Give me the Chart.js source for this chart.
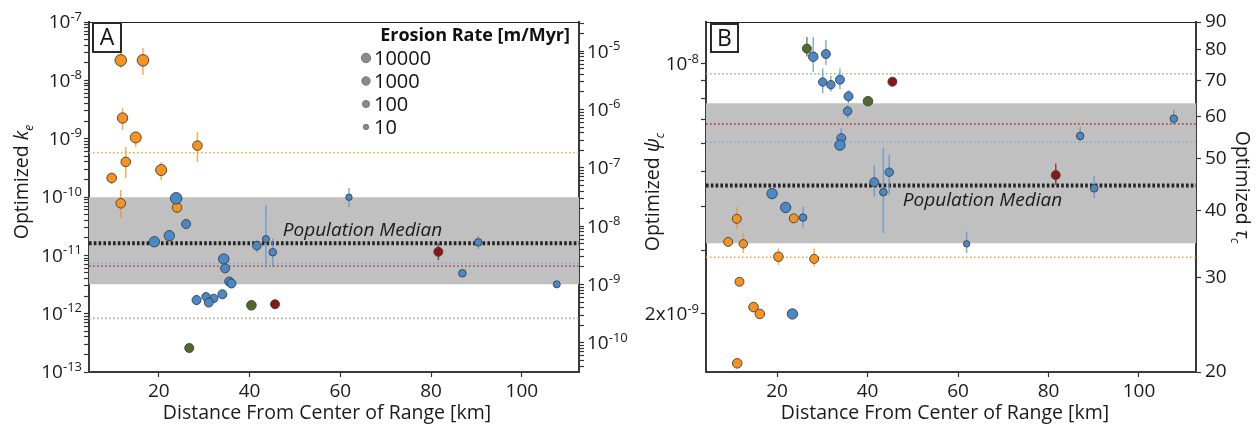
<!DOCTYPE html>
<html lang="en">
<head>
<meta charset="UTF-8">
<title>Optimized k_e and psi_c versus distance from range center</title>
<style>
  body { margin: 0; background: #fff; }
  #wrap { position: relative; width: 1260px; height: 426px; }
  canvas { position: absolute; top: 0; }
  #chartA { left: 0; }
  #chartB { left: 630px; }
</style>
<script src="https://cdn.jsdelivr.net/npm/chart.js"></script>
</head>
<body>
<div id="wrap">
  <canvas id="chartA" width="630" height="426"></canvas>
  <canvas id="chartB" width="630" height="426"></canvas>
</div>
<script>
// ---- data ----
const groupNames = ['orange', 'blue', 'green', 'red'];
const distTicks = [20, 40, 60, 80, 100];

// panel A : optimized k_e
const aGroup = 'OOOOOOOOOOBBBBBBBBBBBBBBBBBBBBGGRR'.split('');
const aDist = [11.6, 16.5, 12.0, 14.9, 12.7, 9.6, 20.5, 28.5, 11.6, 24.0,
  23.8, 26.0, 22.3, 19.0, 41.6, 43.6, 45.1, 34.3, 34.6, 35.5, 36.0, 34.0, 32.1, 30.4, 31.0, 28.3, 61.9, 90.4, 86.9, 107.7,
  40.4, 26.7,
  45.6, 81.6];
const aKe = [2.2e-8, 2.2e-8, 2.26e-9, 1.05e-9, 4.0e-10, 2.12e-10, 2.9e-10, 7.6e-10, 7.8e-11, 6.6e-11,
  9.5e-11, 3.44e-11, 2.17e-11, 1.71e-11, 1.46e-11, 1.9e-11, 1.13e-11, 8.65e-12, 5.98e-12, 3.56e-12, 3.29e-12, 2.15e-12, 1.83e-12, 1.95e-12, 1.55e-12, 1.71e-12, 9.9e-11, 1.67e-11, 4.92e-12, 3.18e-12,
  1.39e-12, 2.58e-13,
  1.45e-12, 1.15e-11];
const aKeLow = [1.63e-8, 1.23e-8, 1.41e-9, 7.2e-10, 2.12e-10, 1.67e-10, 1.95e-10, 3.98e-10, 4.37e-11, null,
  null, 2.9e-11, null, null, 1.13e-11, 6.1e-12, 6.3e-12, null, null, null, null, null, null, null, null, 1.4e-12, 6.7e-11, 1.29e-11, null, null,
  null, null,
  null, 8.3e-12];
const aKeHigh = [2.94e-8, 3.58e-8, 3.36e-9, 1.3e-9, 7.2e-10, 2.58e-10, 3.98e-10, 1.3e-9, 1.32e-10, null,
  null, 4.1e-11, null, null, 1.83e-11, 7.3e-11, 1.95e-11, null, null, null, null, null, null, null, null, 2.1e-12, 1.43e-10, 2.14e-11, null, null,
  null, null,
  null, 1.61e-11];
const aRate = [16000, 16000, 1000, 4000, 220, 220, 4000, 220, 220, 220,
  16000, 80, 1000, 1000, 35, 7, 12, 1000, 80, 80, 80, 80, 35, 35, 80, 80, 4, 12, 12, 7,
  220, 80,
  80, 80];
const aGroupMedian = [5.74e-10, 7.3e-12, 8.3e-13, 6.56e-12];   // orange, blue, green, red
const aPopMedian = 1.61e-11;
const aPopRange = [3.18e-12, 9.9e-11];
const keDecades = [1e-7, 1e-8, 1e-9, 1e-10, 1e-11, 1e-12, 1e-13];
const keLabels = ['10^-7', '10^-8', '10^-9', '10^-10', '10^-11', '10^-12', '10^-13'];
const keRightDecades = [1e-5, 1e-6, 1e-7, 1e-8, 1e-9, 1e-10];
const keRightLabels = ['10^-5', '10^-6', '10^-7', '10^-8', '10^-9', '10^-10'];

// panel B : optimized psi_c
const bGroup = 'OOOOOOOOOOBBBBBBBBBBBBBBBBBBBBGGRR'.split('');
const bDist = [11.1, 23.7, 9.2, 12.55, 20.3, 28.2, 11.7, 14.8, 16.2, 11.2,
  28.0, 30.8, 30.1, 31.9, 33.9, 35.8, 35.6, 34.2, 33.9, 41.5, 43.5, 44.8, 18.9, 21.9, 25.75, 23.4, 87.0, 107.7, 90.1, 61.9,
  26.6, 40.1,
  45.5, 81.6];
const bPsi = [3.69e-9, 3.7e-9, 3.18e-9, 3.14e-9, 2.89e-9, 2.85e-9, 2.46e-9, 2.09e-9, 2.0e-9, 1.455e-9,
  1.048e-8, 1.066e-8, 8.9e-9, 8.75e-9, 9.04e-9, 8.12e-9, 7.38e-9, 6.2e-9, 5.93e-9, 4.67e-9, 4.38e-9, 4.98e-9, 4.34e-9, 3.97e-9, 3.72e-9, 2.0e-9, 6.29e-9, 7.03e-9, 4.49e-9, 3.14e-9,
  1.104e-8, 7.87e-9,
  8.92e-9, 4.89e-9];
const bPsiLow = [3.45e-9, null, null, 2.96e-9, 2.74e-9, 2.71e-9, null, null, null, null,
  9.5e-9, 9.94e-9, 8.28e-9, 8.38e-9, 8.5e-9, 7.76e-9, 7.05e-9, 5.87e-9, null, 4.25e-9, 3.37e-9, 4.31e-9, null, null, 3.49e-9, null, 6.07e-9, 6.75e-9, 4.21e-9, 2.96e-9,
  1.05e-8, null,
  null, 4.59e-9];
const bPsiHigh = [3.99e-9, null, null, 3.36e-9, 3.05e-9, 3.05e-9, null, null, null, null,
  1.19e-8, 1.167e-8, 9.72e-9, 9.25e-9, 9.72e-9, 8.46e-9, 7.68e-9, 6.61e-9, null, 5.22e-9, 5.82e-9, 5.57e-9, null, null, 3.99e-9, null, 6.68e-9, 7.43e-9, 4.86e-9, 3.40e-9,
  1.19e-8, null,
  null, 5.27e-9];
const bRate = [80, 80, 80, 35, 220, 80, 80, 220, 220, 220,
  220, 80, 35, 35, 80, 80, 35, 80, 1000, 80, 12, 35, 1000, 1000, 12, 1000, 12, 12, 12, 4,
  80, 220,
  80, 80];
const bGroupMedian = [2.88e-9, 6.04e-9, 9.39e-9, 6.8e-9];
const bPopMedian = 4.57e-9;
const bPopRange = [3.15e-9, 7.76e-9];
const psiLabeled = [1e-8, 2e-9];
const psiLabels = ['10^-8', '2x10^-9'];
const tauTicks = [20, 30, 40, 50, 60, 70, 80, 90];

const legendRates = [10000, 1000, 100, 10];

// ---- styling ----
const FONT = "'Open Sans', 'DejaVu Sans', sans-serif";
Chart.defaults.font.family = FONT;
Chart.defaults.color = '#1a1a1a';

const fillColors = { orange: '#f7931e', blue: '#4a89c9', green: '#52692d', red: '#8a1616' };
const errColors = { orange: 'rgba(247,147,30,0.75)', blue: 'rgba(90,148,210,0.75)', green: 'rgba(82,105,45,0.75)', red: 'rgba(138,22,22,0.75)' };
const dotColors = { orange: '#f8a650', blue: '#7fb0e3', green: '#a3b285', red: '#b34545' };
const letterToGroup = { O: 'orange', B: 'blue', G: 'green', R: 'red' };

function rateRadius(rate) {
  return 2.7 * Math.pow(Math.log10(rate), 0.4);
}

function logTicks(min, max) {
  const out = [];
  for (let e = Math.floor(Math.log10(min)); e <= Math.ceil(Math.log10(max)); e++) {
    for (let m = 1; m <= 9; m++) {
      const v = m * Math.pow(10, e);
      if (v >= min * (1 - 1e-9) && v <= max * (1 + 1e-9)) out.push({ value: v });
    }
  }
  return out;
}

// draws "10" with a raised exponent; align is 'right' or 'left'
function drawPow(ctx, label, x, y, align) {
  const [base, exp] = label.split('^');
  ctx.save();
  ctx.textBaseline = 'middle';
  ctx.textAlign = 'left';
  ctx.fillStyle = '#1a1a1a';
  ctx.font = '19px ' + FONT;
  const wb = ctx.measureText(base).width;
  ctx.font = '13px ' + FONT;
  const we = ctx.measureText(exp).width;
  const x0 = align === 'right' ? x - wb - we : x;
  ctx.font = '19px ' + FONT;
  ctx.fillText(base, x0, y + 1);
  ctx.font = '13px ' + FONT;
  ctx.fillText(exp, x0 + wb, y - 5);
  ctx.restore();
}

function drawRich(ctx, parts, cx, cy, rot) {
  ctx.save();
  ctx.translate(cx, cy);
  ctx.rotate(rot);
  let total = 0;
  parts.forEach(p => { ctx.font = p.font; p.w = ctx.measureText(p.text).width; total += p.w; });
  let x = -total / 2;
  ctx.textAlign = 'left';
  ctx.textBaseline = 'alphabetic';
  ctx.fillStyle = '#1a1a1a';
  parts.forEach(p => { ctx.font = p.font; ctx.fillText(p.text, x, p.dy || 0); x += p.w; });
  ctx.restore();
}

const decor = {
  id: 'decor',
  afterDraw(chart, args, o) {
    const ctx = chart.ctx;
    const ca = chart.chartArea;
    const xs = chart.scales.x, ys = chart.scales.y, ys2 = chart.scales.y2;
    ctx.save();
    // top spine
    ctx.strokeStyle = '#222';
    ctx.lineWidth = 1;
    ctx.beginPath();
    ctx.moveTo(ca.left, ca.top + 0.5);
    ctx.lineTo(ca.right, ca.top + 0.5);
    ctx.stroke();

    // power-of-ten tick labels
    o.leftPow.values.forEach((v, i) => drawPow(ctx, o.leftPow.labels[i], ca.left - 7, ys.getPixelForValue(v), 'right'));
    if (o.rightPow) {
      o.rightPow.values.forEach((v, i) => drawPow(ctx, o.rightPow.labels[i], ca.right + 8, ys2.getPixelForValue(v), 'left'));
    }

    // panel letter
    ctx.lineWidth = 2;
    ctx.strokeStyle = '#2a2a2a';
    ctx.strokeRect(o.box[0], o.box[1], o.box[2], o.box[3]);
    ctx.font = '23px ' + FONT;
    ctx.fillStyle = '#111';
    ctx.textAlign = 'center';
    ctx.textBaseline = 'middle';
    ctx.fillText(o.letter, o.box[0] + o.box[2] / 2, o.box[1] + o.box[3] / 2 + 1);

    // population median label
    ctx.font = 'italic 19px ' + FONT;
    ctx.textAlign = 'left';
    ctx.textBaseline = 'alphabetic';
    ctx.fillStyle = '#1a1a1a';
    ctx.fillText('Population Median', xs.getPixelForValue(o.medianTextX), ys.getPixelForValue(o.median) + o.medianTextDy);

    // x axis title
    ctx.font = '19.5px ' + FONT;
    ctx.textAlign = 'center';
    ctx.fillText('Distance From Center of Range [km]', o.xTitleX, 419);

    // y axis titles
    o.yTitles.forEach(t => drawRich(ctx, t.parts, t.x, t.y, t.rot));

    // erosion rate legend
    if (o.legend) {
      ctx.font = 'bold 18px ' + FONT;
      ctx.textAlign = 'right';
      ctx.textBaseline = 'middle';
      ctx.fillStyle = '#111';
      ctx.fillText('Erosion Rate [m/Myr]', ca.right - 9, 36);
      legendRates.forEach((r, i) => {
        const cy = 58 + i * 23;
        ctx.beginPath();
        ctx.arc(366, cy, rateRadius(r), 0, Math.PI * 2);
        ctx.fillStyle = '#8a8a8a';
        ctx.fill();
        ctx.lineWidth = 0.8;
        ctx.strokeStyle = '#666';
        ctx.stroke();
        ctx.fillStyle = '#111';
        ctx.font = '20px ' + FONT;
        ctx.textAlign = 'left';
        ctx.fillText(String(r), 374, cy + 1);
      });
    }
    ctx.restore();
  }
};

function buildPanel(canvasId, p) {
  const datasets = [];
  const xMin = p.xMin, xMax = p.xMax;
  // population range band
  datasets.push({
    type: 'line', data: [{ x: xMin, y: p.range[0] }, { x: xMax, y: p.range[0] }],
    fill: { value: p.range[1] }, backgroundColor: '#c0c0c0', borderWidth: 0, pointRadius: 0, order: 60
  });
  // group medians
  groupNames.forEach((g, i) => {
    datasets.push({
      type: 'line', data: [{ x: xMin, y: p.medians[i] }, { x: xMax, y: p.medians[i] }],
      borderColor: dotColors[g], borderWidth: 1.6, borderDash: [1.6, 2.4], pointRadius: 0, fill: false, order: 50
    });
  });
  // population median
  datasets.push({
    type: 'line', data: [{ x: xMin, y: p.popMedian }, { x: xMax, y: p.popMedian }],
    borderColor: '#222', borderWidth: 4, borderDash: [2.6, 2.2], pointRadius: 0, fill: false, order: 45
  });
  // error bars and markers, per group
  groupNames.forEach((g, gi) => {
    const errPts = [];
    const pts = [];
    const radii = [];
    p.group.forEach((letter, i) => {
      if (letterToGroup[letter] !== g) return;
      pts.push({ x: p.dist[i], y: p.val[i] });
      radii.push(rateRadius(p.rate[i]) + 1.0);
      if (p.low[i] !== null) {
        errPts.push({ x: p.dist[i], y: p.low[i] }, { x: p.dist[i], y: p.high[i] }, { x: p.dist[i], y: null });
      }
    });
    datasets.push({
      type: 'line', data: errPts, borderColor: errColors[g], borderWidth: 1.5,
      pointRadius: 0, spanGaps: false, fill: false, order: 30 - gi
    });
    datasets.push({
      type: 'scatter', data: pts, backgroundColor: fillColors[g], borderColor: '#3d3d3d',
      borderWidth: 0.9, pointRadius: radii, order: 20 - gi
    });
  });

  const commonTicks = { font: { size: 19 }, color: '#1a1a1a', autoSkip: false, maxRotation: 0 };
  const commonGrid = { drawOnChartArea: false, tickLength: 5, tickColor: '#333', tickWidth: 1.2 };
  const commonBorder = { display: true, color: '#3a3a3a', width: 2 };

  return new Chart(document.getElementById(canvasId), {
    type: 'scatter',
    data: { datasets },
    options: {
      responsive: false,
      animation: false,
      layout: { padding: { top: 22, left: 0, right: 0, bottom: 0 } },
      plugins: { legend: { display: false }, tooltip: { enabled: false }, decor: p.decor },
      scales: {
        x: {
          type: 'linear', min: xMin, max: xMax,
          afterBuildTicks: s => { s.ticks = distTicks.map(v => ({ value: v })); },
          afterFit: s => { s.height = 54; },
          ticks: Object.assign({ padding: 3 }, commonTicks),
          grid: commonGrid, border: commonBorder
        },
        y: {
          type: 'logarithmic', position: 'left', min: p.yMin, max: p.yMax,
          afterBuildTicks: s => { s.ticks = p.leftTicks(); },
          afterFit: s => { s.width = p.leftWidth; },
          ticks: Object.assign({ padding: 4, callback: () => '' }, commonTicks),
          grid: commonGrid, border: commonBorder
        },
        y2: {
          type: 'logarithmic', position: 'right', min: p.y2Min, max: p.y2Max,
          afterBuildTicks: s => { s.ticks = p.rightTicks(); },
          afterFit: s => { s.width = p.rightWidth; },
          ticks: Object.assign({ padding: 4, callback: p.rightLabel }, commonTicks),
          grid: commonGrid, border: commonBorder
        }
      }
    },
    plugins: [decor]
  });
}

const keMin = 1e-13, keMax = 1e-7;
const keRMin = Math.pow(10, -10.5), keRMax = Math.pow(10, -4.5);
buildPanel('chartA', {
  group: aGroup, dist: aDist, val: aKe, low: aKeLow, high: aKeHigh, rate: aRate,
  medians: aGroupMedian, popMedian: aPopMedian, range: aPopRange,
  xMin: 4.6, xMax: 112.6, yMin: keMin, yMax: keMax, y2Min: keRMin, y2Max: keRMax,
  leftWidth: 89, rightWidth: 51,
  leftTicks: () => logTicks(keMin, keMax),
  rightTicks: () => logTicks(keRMin, keRMax),
  rightLabel: () => '',
  decor: {
    letter: 'A', box: [93, 23, 28, 29], legend: true,
    leftPow: { values: keDecades, labels: keLabels },
    rightPow: { values: keRightDecades, labels: keRightLabels },
    median: aPopMedian, medianTextX: 47.3, medianTextDy: -7,
    xTitleX: 327,
    yTitles: [{
      x: 28, y: 182, rot: -Math.PI / 2,
      parts: [{ text: 'Optimized ', font: '19.5px ' + FONT }, { text: 'k', font: 'italic 19.5px ' + FONT },
        { text: 'e', font: 'italic 12px ' + FONT, dy: 5 }]
    }]
  }
});

const psiMin = 1.376e-9, psiMax = 1.3103e-8;
buildPanel('chartB', {
  group: bGroup, dist: bDist, val: bPsi, low: bPsiLow, high: bPsiHigh, rate: bRate,
  medians: bGroupMedian, popMedian: bPopMedian, range: bPopRange,
  xMin: 4.3, xMax: 112.6, yMin: psiMin, yMax: psiMax, y2Min: 20, y2Max: 90,
  leftWidth: 76, rightWidth: 64,
  leftTicks: () => logTicks(psiMin, psiMax),
  rightTicks: () => tauTicks.map(v => ({ value: v })),
  rightLabel: v => String(Math.round(v)),
  decor: {
    letter: 'B', box: [81, 24, 27, 28], legend: false,
    leftPow: { values: psiLabeled, labels: psiLabels },
    rightPow: null,
    median: bPopMedian, medianTextX: 47.8, medianTextDy: 20,
    xTitleX: 315,
    yTitles: [{
      x: 29, y: 192, rot: -Math.PI / 2,
      parts: [{ text: 'Optimized ', font: '19.5px ' + FONT }, { text: 'ψ', font: 'italic 19.5px ' + FONT },
        { text: 'c', font: 'italic 12px ' + FONT, dy: 5 }]
    }, {
      x: 606, y: 187, rot: Math.PI / 2,
      parts: [{ text: 'Optimized ', font: '19.5px ' + FONT }, { text: 'τ', font: 'italic 19.5px ' + FONT },
        { text: 'c', font: 'italic 12px ' + FONT, dy: 5 }]
    }]
  }
});
</script>
</body>
</html>
